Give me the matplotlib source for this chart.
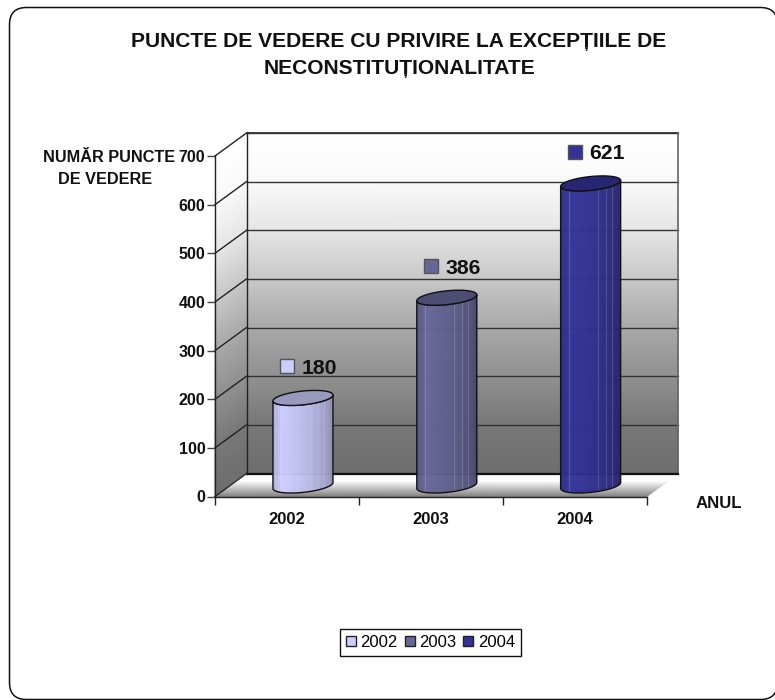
import numpy as np
import matplotlib
matplotlib.use("Agg")
import matplotlib.pyplot as plt
from matplotlib.patches import FancyBboxPatch, Polygon, Patch
from matplotlib.colors import to_rgb, ListedColormap

years = ["2002", "2003", "2004"]
values = [180, 386, 621]
colors = ["#CCCCFF", "#666699", "#333399"]
yticks = [0, 100, 200, 300, 400, 500, 600, 700]
title = "PUNCTE DE VEDERE CU PRIVIRE LA EXCEPȚIILE DE\nNECONSTITUȚIONALITATE"
ylab_lines = ["NUMĂR PUNCTE", "DE VEDERE"]
xlab = "ANUL"

plt.rcParams["font.family"] = ["Liberation Sans", "DejaVu Sans"]
W, H = 775, 700
fig = plt.figure(figsize=(W / 100, H / 100), dpi=100)
fig.patch.set_facecolor("white")

# outer rounded frame, figure pixels
bg = fig.add_axes([0, 0, 1, 1], zorder=0)
bg.set_xlim(0, W); bg.set_ylim(H, 0); bg.axis("off")
bg.add_patch(FancyBboxPatch((9.5, 7.5), 768, 692, boxstyle="round,pad=0,rounding_size=17",
                            fc="white", ec="#111111", lw=1.1, clip_on=False))

# chart axes: the front plane of the 3-D box
L, R, T, B = 215.0, 646.5, 156.0, 496.5
ax = fig.add_axes([L / W, 1 - B / H, (R - L) / W, (B - T) / H], zorder=1)
ax.set_xlim(0, 3); ax.set_ylim(0, 700)
ax.patch.set_alpha(0)
for s in ["top", "right"]:
    ax.spines[s].set_visible(False)
for s in ["left", "bottom"]:
    ax.spines[s].set_linewidth(1.0)
    ax.spines[s].set_color("#222222")
    ax.spines[s].set_zorder(6)
ax.set_yticks(yticks)
ax.set_yticklabels([str(v) for v in yticks], fontsize=11.5, fontweight="bold", color="#111111")
ax.set_xticks([0, 1, 2, 3])
ax.set_xticklabels([])
ax.set_xticks([0.5, 1.5, 2.5], minor=True)
ax.set_xticklabels(years, minor=True, fontsize=12.0, fontweight="bold", color="#111111")
ax.tick_params(axis="x", which="minor", length=0, pad=11)
ax.tick_params(axis="x", which="major", length=5.5, width=1, color="#222222")
ax.tick_params(axis="y", length=5.5, width=1, color="#444444", pad=1.5)

DX = 3 * 31.5 / (R - L)       # box depth in x units
DY = 700 * 23.0 / (B - T)     # box depth in y units
PX = 3 / (R - L)              # one pixel in x units
PY = 700 / (B - T)            # one pixel in y units

shade_at = [0, 100, 200, 300, 400, 500, 600, 700]
shade = [0.43, 0.47, 0.565, 0.66, 0.78, 0.90, 0.975, 1.0]

n = 60
f = np.linspace(0, 700, n)
cw = np.interp(f, shade_at, shade)

# back wall
Xb = np.array([[DX, 3 + DX]] * n)
Yb = np.column_stack([f + DY, f + DY])
ax.pcolormesh(Xb, Yb, np.column_stack([cw, cw]), shading="gouraud", cmap="gray",
              vmin=0, vmax=1, clip_on=False, zorder=1)
# side wall
Xs = np.array([[0, DX]] * n)
Ys = np.column_stack([f, f + DY])
ax.pcolormesh(Xs, Ys, np.column_stack([cw, cw]), shading="gouraud", cmap="gray",
              vmin=0, vmax=1, clip_on=False, zorder=1)
# floor
g = np.linspace(0, 1, 30)
Xf = np.column_stack([g * DX, 3 + g * DX])
Yf = np.column_stack([g * DY, g * DY])
Cf = 0.50 + 0.50 * np.clip(g / 0.7, 0, 1)
ax.pcolormesh(Xf, Yf, np.column_stack([Cf, Cf]), shading="gouraud", cmap="gray",
              vmin=0, vmax=1, clip_on=False, zorder=1)

# gridlines on walls
for v in yticks[1:]:
    ax.plot([DX, 3 + DX], [v + DY, v + DY], color="#333333", lw=1.0, clip_on=False, zorder=2)
    ax.plot([0, DX], [v, v + DY], color="#222222", lw=1.0, clip_on=False, zorder=2)
ax.plot([DX, 3 + DX], [700 + DY] * 2, color="#333333", lw=1.3, clip_on=False, zorder=2)
ax.plot([DX, DX], [DY, 700 + DY], color="#222222", lw=1.0, clip_on=False, zorder=2)
ax.plot([3 + DX, 3 + DX], [DY, 700 + DY], color="#666666", lw=1.2, clip_on=False, zorder=2)
ax.plot([DX, 3 + DX], [DY, DY], color="#111111", lw=1.6, clip_on=False, zorder=2)
ax.plot([0, DX], [0, DY], color="#222222", lw=1.0, clip_on=False, zorder=2)

# cylinders
stripes = np.array([0.88, 0.92, 0.96, 1.0, 1.0, 1.0, 0.99, 0.98, 0.97, 0.96, 0.95, 0.94,
                    0.93, 0.92, 0.9, 0.89, 0.87, 0.86, 0.84, 0.82, 0.8, 0.78, 0.76, 0.72])
highlight = [-22, 7, 15, 21]
t = np.linspace(0, 2 * np.pi, 73)
RW, A, C = 30.0, 3.0, 6.9      # ellipse half-width, tilt, minor half-height in pixels
for i, (v, col) in enumerate(zip(values, colors)):
    cx = i + 0.5 + DX / 2 + 0.3 * PX
    base = DY / 2 - 0.5 * PY
    top = v + base
    ex = RW * np.cos(t) * PX
    ey = (A * np.cos(t) + C * np.sin(t)) * PY
    lo = np.linspace(np.pi, 2 * np.pi, 37)
    lx = cx + RW * np.cos(lo) * PX
    ly = base + (A * np.cos(lo) + C * np.sin(lo)) * PY
    hi = np.linspace(2 * np.pi, np.pi, 37)
    tx = cx + RW * np.cos(hi) * PX
    ty = top + (A * np.cos(hi) + C * np.sin(hi)) * PY
    body = np.column_stack([np.r_[lx, tx], np.r_[ly, ty]])
    rgb = np.array(to_rgb(col))
    edges = np.linspace(cx - RW * PX, cx + RW * PX, len(stripes) + 1)
    face = np.clip(stripes[:, None] * rgb, 0, 1)
    ys = [base - 12 * PY, top + 12 * PY]
    clip = Polygon(body, closed=True, transform=ax.transData)
    mesh = ax.pcolormesh(edges, ys, np.arange(len(stripes))[None, :],
                         cmap=ListedColormap(face), clip_on=True,
                         antialiased=False, alpha=0.97, zorder=3)
    mesh.set_clip_path(clip)
    for off in highlight:
        line, = ax.plot([cx + off * PX] * 2, ys, color="white", lw=0.8, alpha=0.16, zorder=3.2)
        line.set_clip_path(Polygon(body, closed=True, transform=ax.transData))
    ax.add_patch(Polygon(body, closed=True, fc="none", ec="#111111", lw=1.0, clip_on=False, zorder=4))
    ax.add_patch(Polygon(np.column_stack([cx + ex, top + ey]), closed=True,
                         fc=tuple(rgb * 0.75), ec="#111111", lw=1.0, clip_on=False, zorder=5))
    # data label: legend key plus the value
    ly0 = top + 29.5 * PY
    ax.plot([cx - 15.5 * PX], [ly0 + 2 * PY], marker="s", ms=9.5, mfc=col, mec="#555555", mew=1.0,
            clip_on=False, zorder=6, ls="none")
    ax.text(cx - 1.5 * PX, ly0, str(v), fontsize=15.3, fontweight="bold", color="#111111",
            va="center", ha="left", clip_on=False, zorder=6)

# text
fig.text(399 / W, 1 - 55 / H, title, ha="center", va="center", fontsize=15.1, fontweight="bold",
         linespacing=1.48, color="#111111", zorder=5)
fig.text(109 / W, 1 - 157 / H, ylab_lines[0], ha="center", va="center", fontsize=11.7,
         fontweight="bold", color="#111111", zorder=5)
fig.text(105 / W, 1 - 179 / H, ylab_lines[1], ha="center", va="center", fontsize=11.7,
         fontweight="bold", color="#111111", zorder=5)
fig.text(719 / W, 1 - 503 / H, xlab, ha="center", va="center", fontsize=12.1, fontweight="bold",
         color="#111111", zorder=5)

# legend
handles = [Patch(fc=c, ec="#222222", lw=1.0, label=y) for y, c in zip(years, colors)]
leg = ax.legend(handles=handles, ncol=3, fontsize=12, frameon=True, fancybox=False,
                edgecolor="#111111", framealpha=1, loc="center",
                bbox_to_anchor=(430.5 / W, 1 - 642.5 / H), bbox_transform=fig.transFigure,
                handlelength=0.6, handleheight=0.6, handletextpad=0.3, columnspacing=0.4,
                borderpad=0.35, borderaxespad=0)
leg.get_frame().set_linewidth(1.0)
leg.set_zorder(7)

fig.savefig("out.png", dpi=100)
